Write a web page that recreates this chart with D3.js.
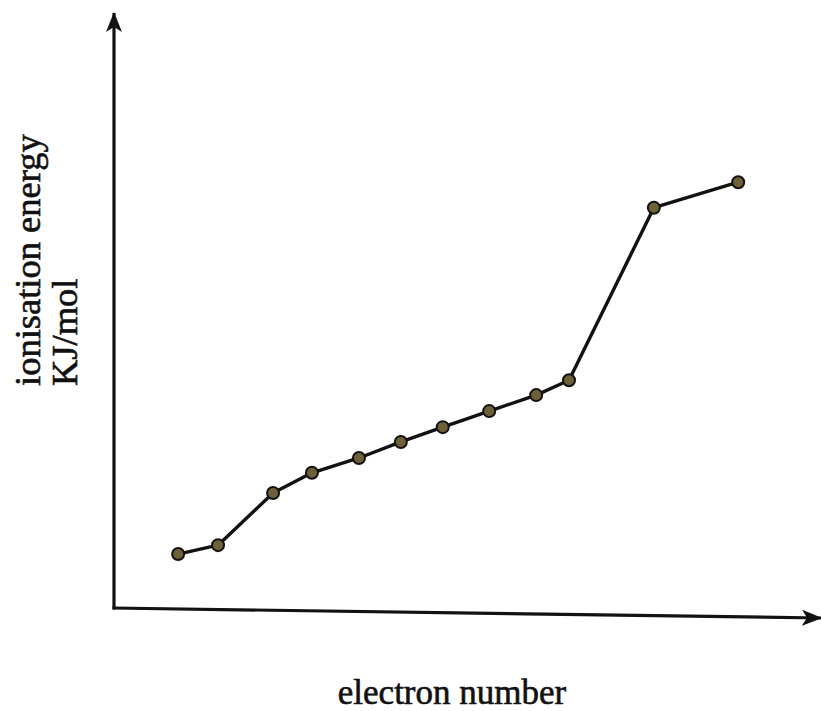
<!DOCTYPE html>
<html>
<head>
<meta charset="utf-8">
<script src="https://cdn.jsdelivr.net/npm/d3@7"></script>
<style>
  html, body { margin: 0; padding: 0; background: #ffffff; }
  svg { display: block; }
  text { font-family: "Liberation Serif", "DejaVu Serif", serif; fill: #111; stroke: #111; stroke-width: 0.6px; }
</style>
</head>
<body>
<svg id="chart" width="821" height="711"></svg>
<script>
// Data (arbitrary units, axes have no ticks)
const electronPos = [1.27, 2.06, 3.15, 3.92, 4.85, 5.68, 6.51, 7.43, 8.36, 9.01, 10.69, 12.36];
const ionisationEnergy = [9.1, 10.6, 19.4, 22.8, 25.3, 28.0, 30.5, 33.2, 35.9, 38.4, 67.5, 71.8];
const xLabel = "electron number";
const yLabelLines = ["ionisation energy", "KJ/mol"];

const svg = d3.select("#chart");
const x = d3.scaleLinear().domain([0, 14]).range([114, 821]);
const y = d3.scaleLinear().domain([0, 100]).range([608, 15]);

const ink = "#141210";

// Arrow markers
const defs = svg.append("defs");
defs.append("marker")
  .attr("id", "arrow")
  .attr("viewBox", "0 0 20 16")
  .attr("refX", 19).attr("refY", 8)
  .attr("markerWidth", 20).attr("markerHeight", 16)
  .attr("markerUnits", "userSpaceOnUse")
  .attr("orient", "auto")
  .append("path")
  .attr("d", "M0,0 L20,8 L0,16 L5,8 Z")
  .attr("fill", ink);

// Y axis
svg.append("line")
  .attr("x1", x(0)).attr("y1", y(0) + 1.5)
  .attr("x2", x(0)).attr("y2", y(100) - 2)
  .attr("stroke", ink).attr("stroke-width", 3.2)
  .attr("marker-end", "url(#arrow)");

// X axis (slightly skewed as in the photographed reference)
svg.append("line")
  .attr("x1", x(0) - 1.5).attr("y1", y(0))
  .attr("x2", x(14)).attr("y2", y(0) + 10)
  .attr("stroke", ink).attr("stroke-width", 3.2)
  .attr("marker-end", "url(#arrow)");

// Data line
const pts = electronPos.map((v, i) => [v, ionisationEnergy[i]]);
svg.append("path")
  .datum(pts)
  .attr("fill", "none")
  .attr("stroke", ink)
  .attr("stroke-width", 3.4)
  .attr("stroke-linejoin", "round")
  .attr("d", d3.line().x(d => x(d[0])).y(d => y(d[1])));

// Points
svg.selectAll("circle.pt")
  .data(pts)
  .join("circle")
  .attr("class", "pt")
  .attr("cx", d => x(d[0]))
  .attr("cy", d => y(d[1]))
  .attr("r", 6)
  .attr("fill", "#6e6139")
  .attr("stroke", ink)
  .attr("stroke-width", 2);

// X label
svg.append("text")
  .attr("x", 452).attr("y", 704)
  .attr("text-anchor", "middle")
  .attr("font-size", 35)
  .text(xLabel);

// Y label (two rotated lines)
const yBase = [40, 77];
yLabelLines.forEach((t, i) => {
  svg.append("text")
    .attr("transform", `translate(${yBase[i]},386) rotate(-90)`)
    .attr("text-anchor", "start")
    .attr("font-size", 36.5)
    .text(t);
});
</script>
</body>
</html>
